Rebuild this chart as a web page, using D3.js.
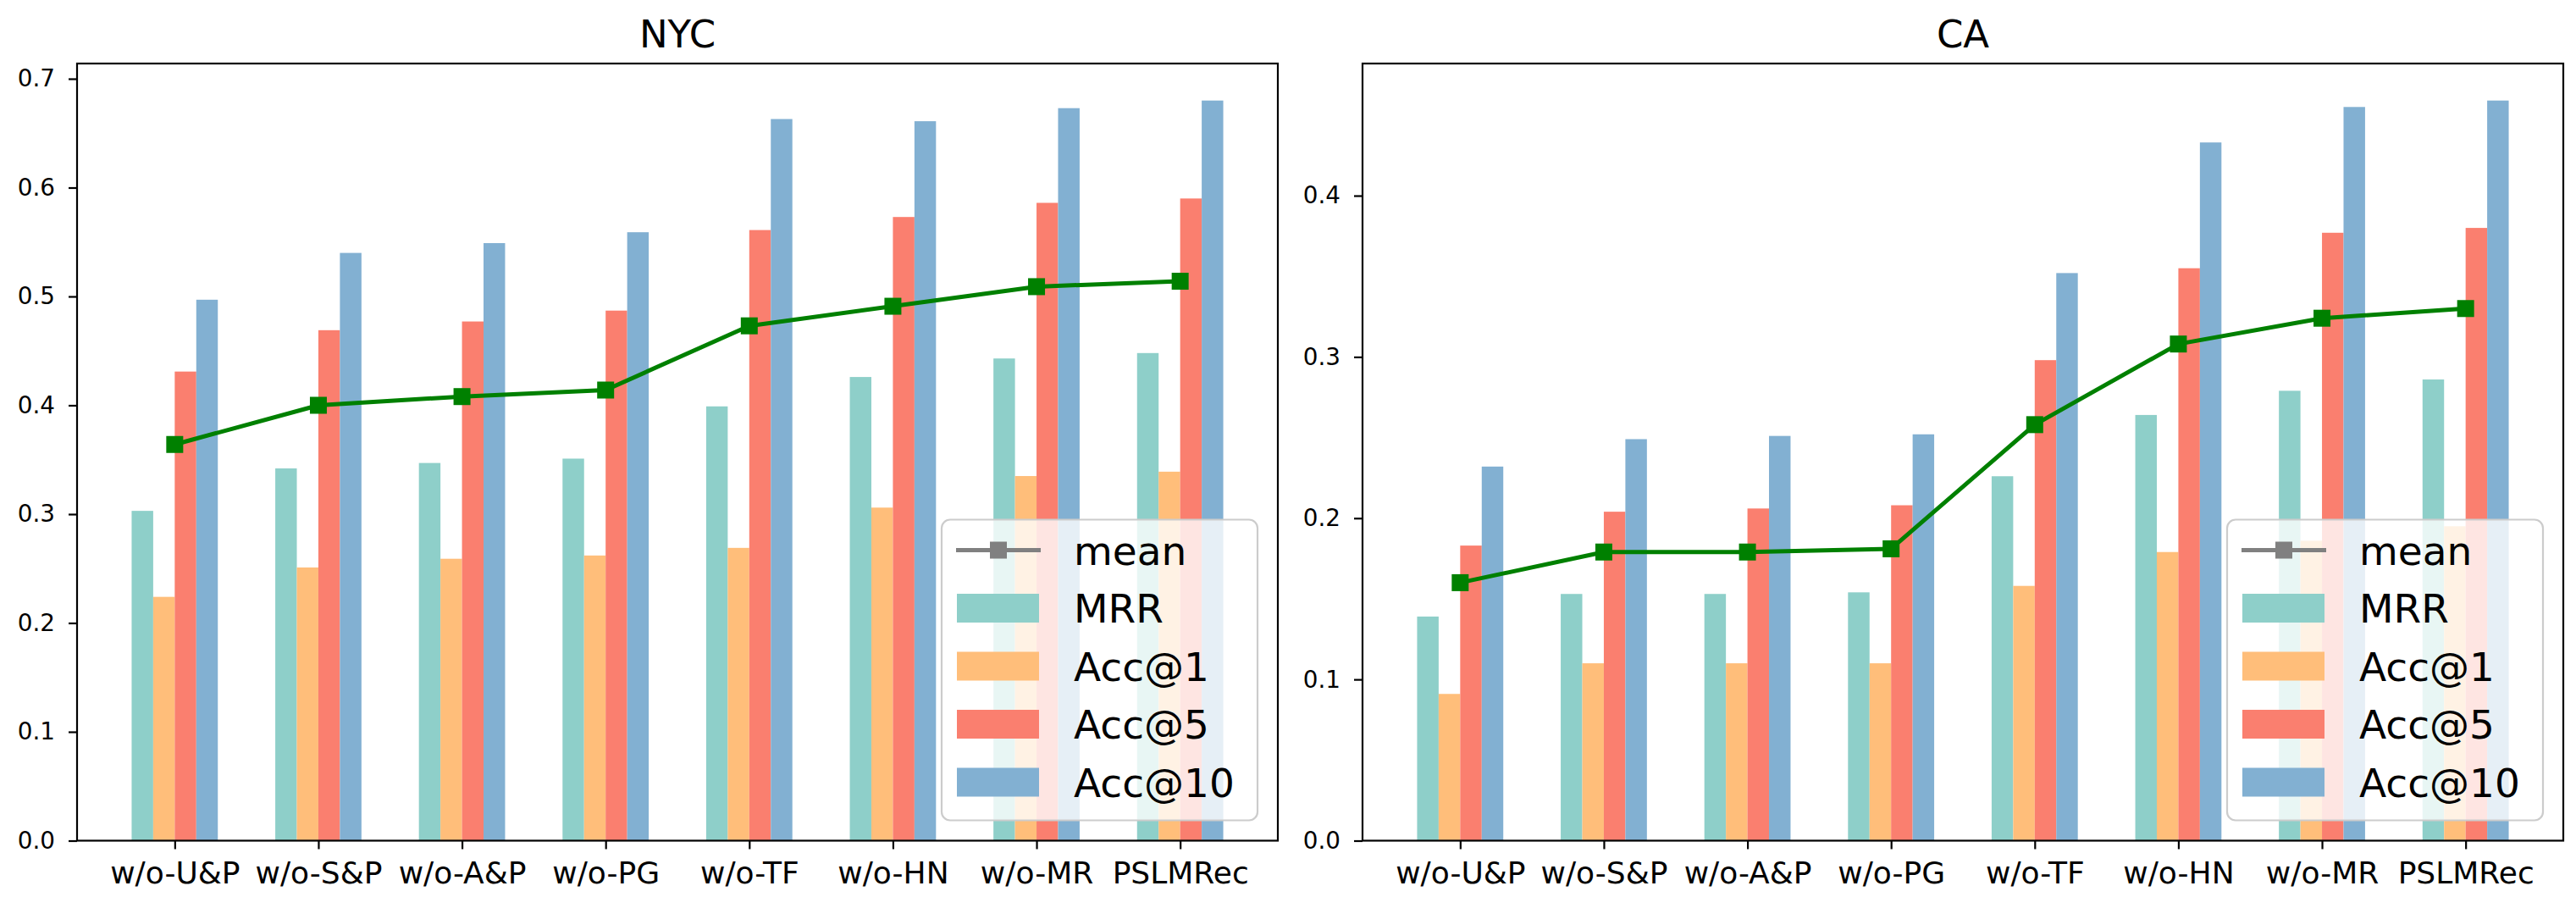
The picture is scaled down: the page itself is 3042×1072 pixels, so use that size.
<!DOCTYPE html>
<html>
<head>
<meta charset="utf-8">
<script src="https://cdn.jsdelivr.net/npm/d3@7"></script>
<style>
  body { margin: 0; background: #fff; }
  svg { display: block; font-family: "DejaVu Sans", sans-serif; }
</style>
</head>
<body>
<div id="chart"></div>
<script>

// data

const categories = ["w/o-U&P", "w/o-S&P", "w/o-A&P", "w/o-PG", "w/o-TF", "w/o-HN", "w/o-MR", "PSLMRec"]
const metrics = ["MRR", "Acc@1", "Acc@5", "Acc@10"]
const colors = ["#8ecfc9", "#ffbe7a", "#fa7f6f", "#82b0d2"]

const nycMRR   = [0.303, 0.342, 0.347, 0.351, 0.399, 0.426, 0.443, 0.448]
const nycAcc1  = [0.224, 0.251, 0.259, 0.262, 0.269, 0.306, 0.335, 0.339]
const nycAcc5  = [0.431, 0.469, 0.477, 0.487, 0.561, 0.573, 0.586, 0.590]
const nycAcc10 = [0.497, 0.540, 0.549, 0.559, 0.663, 0.661, 0.673, 0.680]
const nycMean  = [0.364, 0.400, 0.408, 0.414, 0.473, 0.491, 0.509, 0.514]
const nycTicks = [0, 0.1, 0.2, 0.3, 0.4, 0.5, 0.6, 0.7]

const caMRR   = [0.139, 0.153, 0.153, 0.154, 0.226, 0.264, 0.279, 0.286]
const caAcc1  = [0.091, 0.110, 0.110, 0.110, 0.158, 0.179, 0.186, 0.195]
const caAcc5  = [0.183, 0.204, 0.206, 0.208, 0.298, 0.355, 0.377, 0.380]
const caAcc10 = [0.232, 0.249, 0.251, 0.252, 0.352, 0.433, 0.455, 0.459]
const caMean  = [0.160, 0.179, 0.179, 0.181, 0.258, 0.308, 0.324, 0.330]
const caTicks = [0, 0.1, 0.2, 0.3, 0.4]

const W = 3042, H = 1072
const panelW = 1418, panelH = 917.5, panelTop = 75
const barW = 0.15

const svg = d3.select("#chart").append("svg")
    .attr("width", W)
    .attr("height", H)

svg.append("rect").attr("width", W).attr("height", H).attr("fill", "#fff")

function panel(left, title, series, mean, ticks){

    const g = svg.append("g")
        .attr("transform", `translate(${left}, ${panelTop})`)

    const xScale = d3.scaleLinear()
        .domain([-0.3 - 0.38, categories.length - 1 + 0.3 + 0.38])
        .range([0, panelW])

    const yMax = d3.max(series.flat()) * 1.05
    const yScale = d3.scaleLinear()
        .domain([0, yMax])
        .range([panelH, 0])

    // bars
    series.forEach((vals, j) => {
        g.append("g").selectAll("rect")
            .data(vals)
            .enter()
            .append("rect")
            .attr("x", (d, i) => xScale(i + (j - 2) * barW))
            .attr("width", xScale(barW) - xScale(0))
            .attr("y", d => yScale(d))
            .attr("height", d => panelH - yScale(d))
            .attr("fill", colors[j])
    })

    // mean line
    const line = d3.line()
        .x((d, i) => xScale(i))
        .y(d => yScale(d))

    g.append("path")
        .datum(mean)
        .attr("d", line)
        .attr("fill", "none")
        .attr("stroke", "#008000")
        .attr("stroke-width", 5)
        .attr("stroke-linejoin", "round")

    g.append("g").selectAll("rect")
        .data(mean)
        .enter()
        .append("rect")
        .attr("x", (d, i) => xScale(i) - 10)
        .attr("y", d => yScale(d) - 10)
        .attr("width", 20)
        .attr("height", 20)
        .attr("fill", "#008000")

    // axes
    const xAxis = d3.axisBottom(xScale)
        .tickValues(d3.range(categories.length))
        .tickFormat(i => categories[i])
        .tickSizeInner(10)
        .tickSizeOuter(0)
        .tickPadding(15)

    g.append("g")
        .attr("class", "axis x-axis")
        .attr("transform", `translate(0, ${panelH})`)
        .call(xAxis)
        .call(a => a.select(".domain").remove())
        .call(a => a.selectAll("text").attr("font-size", 36).attr("fill", "#000").attr("font-family", "DejaVu Sans"))
        .call(a => a.selectAll("line").attr("stroke", "#000").attr("stroke-width", 2.2))

    const yAxis = d3.axisLeft(yScale)
        .tickValues(ticks)
        .tickFormat(d3.format(".1f"))
        .tickSizeInner(10)
        .tickSizeOuter(0)
        .tickPadding(16)

    g.append("g")
        .attr("class", "axis y-axis")
        .call(yAxis)
        .call(a => a.select(".domain").remove())
        .call(a => a.selectAll("text").attr("font-size", 27.8).attr("fill", "#000").attr("font-family", "DejaVu Sans"))
        .call(a => a.selectAll("line").attr("stroke", "#000").attr("stroke-width", 2.2))

    // frame
    g.append("rect")
        .attr("width", panelW)
        .attr("height", panelH)
        .attr("fill", "none")
        .attr("stroke", "#000")
        .attr("stroke-width", 2.2)

    g.append("text")
        .attr("x", panelW / 2)
        .attr("y", -19)
        .attr("text-anchor", "middle")
        .attr("font-size", 45)
        .text(title)

    // legend, lower right
    const lw = 373, lh = 355
    const lg = g.append("g")
        .attr("transform", `translate(${panelW - 24 - lw}, ${panelH - 24 - lh})`)

    lg.append("rect")
        .attr("width", lw)
        .attr("height", lh)
        .attr("rx", 10)
        .attr("fill", "#fff")
        .attr("fill-opacity", 0.8)
        .attr("stroke", "#cccccc")
        .attr("stroke-width", 2.2)

    const rowY = d3.scaleLinear().domain([0, 4]).range([36, 310])
    const labels = ["mean"].concat(metrics)

    lg.append("line")
        .attr("x1", 17).attr("x2", 117)
        .attr("y1", rowY(0)).attr("y2", rowY(0))
        .attr("stroke", "#808080")
        .attr("stroke-width", 5)
    lg.append("rect")
        .attr("x", 57).attr("y", rowY(0) - 10)
        .attr("width", 20).attr("height", 20)
        .attr("fill", "#808080")

    lg.selectAll(".patch")
        .data(metrics)
        .enter()
        .append("rect")
        .attr("class", "patch")
        .attr("x", 18)
        .attr("y", (d, i) => rowY(i + 1) - 17)
        .attr("width", 97)
        .attr("height", 34)
        .attr("fill", (d, i) => colors[i])

    lg.selectAll(".lab")
        .data(labels)
        .enter()
        .append("text")
        .attr("class", "lab")
        .attr("x", 156)
        .attr("y", (d, i) => rowY(i) + 17)
        .attr("font-size", 47)
        .text(d => d)
}

panel(91, "NYC", [nycMRR, nycAcc1, nycAcc5, nycAcc10], nycMean, nycTicks)
panel(1609, "CA", [caMRR, caAcc1, caAcc5, caAcc10], caMean, caTicks)

</script>
</body>
</html>
